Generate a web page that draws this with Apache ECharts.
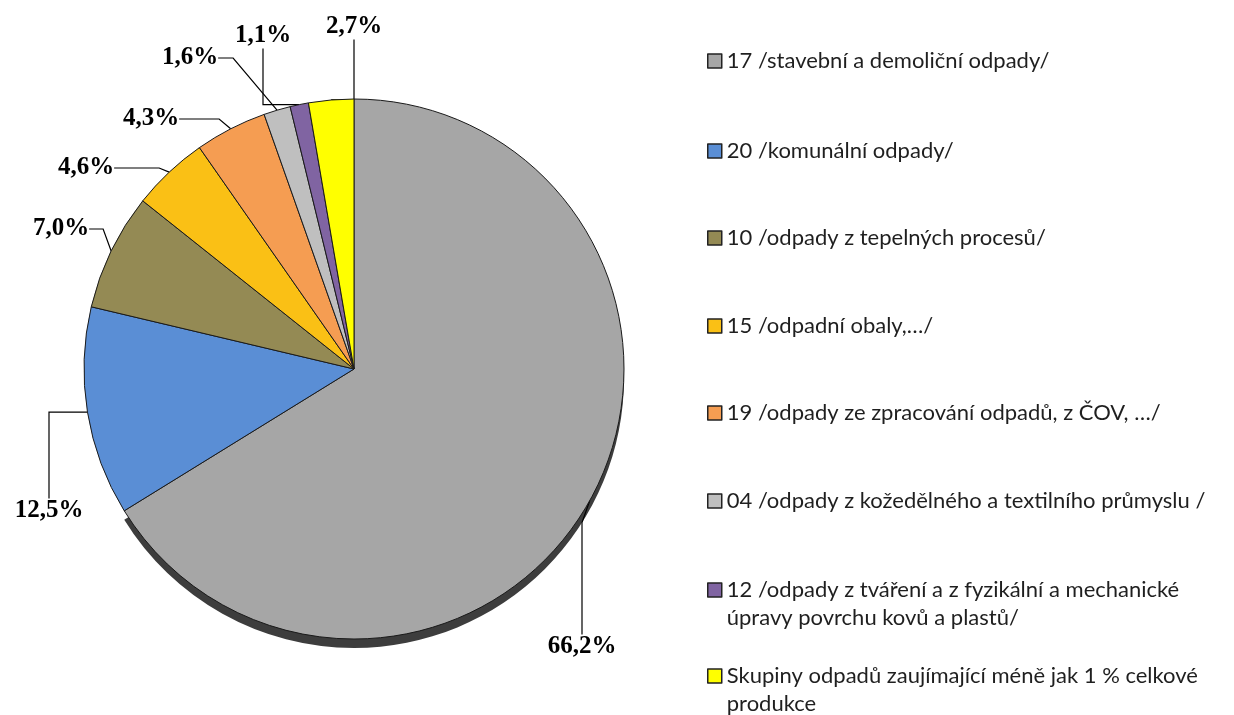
<!DOCTYPE html>
<html>
<head>
<meta charset="utf-8">
<script src="https://cdn.jsdelivr.net/npm/echarts@6/dist/echarts.min.js"></script>
<style>
  html, body { margin: 0; padding: 0; background: #fff; }
  #chart { width: 1234px; height: 715px; }
</style>
</head>
<body>
<div id="chart"></div>
<script>
var categories = [
  '17 /stavební a demoliční odpady/',
  '20 /komunální odpady/',
  '10 /odpady z tepelných procesů/',
  '15 /odpadní obaly,…/',
  '19 /odpady ze zpracování odpadů, z ČOV, …/',
  '04 /odpady z kožedělného a textilního průmyslu /',
  '12 /odpady z tváření a z fyzikální a mechanické úpravy povrchu kovů a plastů/',
  'Skupiny odpadů zaujímající méně jak 1 % celkové produkce'
]
var shares = [66.2, 12.5, 7.0, 4.6, 4.3, 1.6, 1.1, 2.7]

var colors = ['#a6a6a6', '#5a8ed5', '#948a54', '#fac015', '#f59d52', '#bfbfbf', '#8064a2', '#ffff00']

// where the percent labels sit in the picture (centre of text)
var labelPos = [[582, 647], [49, 511], [61, 229], [86, 168], [151, 119], [190, 58], [263, 36], [354, 27]]
var labelGap = [112, 95, 14, 45, 40, 15, 62, 66]
// first-line centre of each legend row, and the word that starts the 2nd line
var legendRowY = [61, 151, 238, 326, 413, 501, 590, 676]
var legendBreak = [null, null, null, null, null, null, 'úpravy', 'produkce']
var lineH = 28

var pieCenter = [354, 369]
var pieRadius = 270

var chart = echarts.init(document.getElementById('chart'))

var legends = categories.map(function (name, i) {
  var brk = legendBreak[i]
  return {
    data: [name],
    orient: 'vertical',
    left: 707,
    top: brk ? legendRowY[i] - lineH * 1.5 : legendRowY[i] - lineH / 2,
    padding: 0,
    icon: 'rect',
    itemWidth: 14,
    itemHeight: 14,
    itemGap: 0,
    itemTextGap: 5,
    selectedMode: false,
    itemStyle: { borderColor: '#222', borderWidth: 1.5 },
    // text is centred on the icon, so an empty first line keeps
    // the icon next to the first real line of a wrapped name
    formatter: function (n) {
      return brk ? '\n' + n.replace(' ' + brk, '\n' + brk) : n
    },
    textStyle: {
      fontFamily: 'Lato',
      fontSize: 22,
      color: '#1f1f1f',
      lineHeight: lineH
    }
  }
})

chart.setOption({
  animation: false,
  backgroundColor: '#fff',
  legend: legends,
  series: [
    {
      // drop shadow under the big slice, same geometry shifted down
      type: 'pie',
      silent: true,
      z: 1,
      center: [pieCenter[0], pieCenter[1] + 9],
      radius: pieRadius,
      startAngle: 90,
      label: { show: false },
      labelLine: { show: false },
      itemStyle: { borderWidth: 0 },
      data: shares.map(function (v, i) {
        return {
          value: v,
          name: 'shadow' + i,
          itemStyle: { color: i === 0 ? '#3d3d3d' : 'rgba(0,0,0,0)' }
        }
      })
    },
    {
      type: 'pie',
      z: 2,
      center: pieCenter,
      radius: pieRadius,
      startAngle: 90,
      clockwise: true,
      avoidLabelOverlap: false,
      itemStyle: { borderColor: '#1a1a1a', borderWidth: 1 },
      emphasis: { disabled: true },
      label: {
        show: true,
        position: 'outside',
        fontFamily: 'Liberation Serif',
        fontWeight: 'bold',
        fontSize: 25,
        color: '#000',
        formatter: function (p) {
          return p.value.toFixed(1).replace('.', ',') + '%'
        }
      },
      labelLine: {
        show: true,
        length: 10,
        length2: 15,
        lineStyle: { color: '#000', width: 1.2 }
      },
      labelLayout: function (params) {
        var pos = labelPos[params.dataIndex]
        return { x: pos[0], y: pos[1], align: 'center', verticalAlign: 'middle' }
      },
      data: categories.map(function (name, i) {
        return {
          name: name,
          value: shares[i],
          itemStyle: { color: colors[i] },
          labelLine: { length2: labelGap[i] }
        }
      })
    }
  ]
})
</script>
</body>
</html>
